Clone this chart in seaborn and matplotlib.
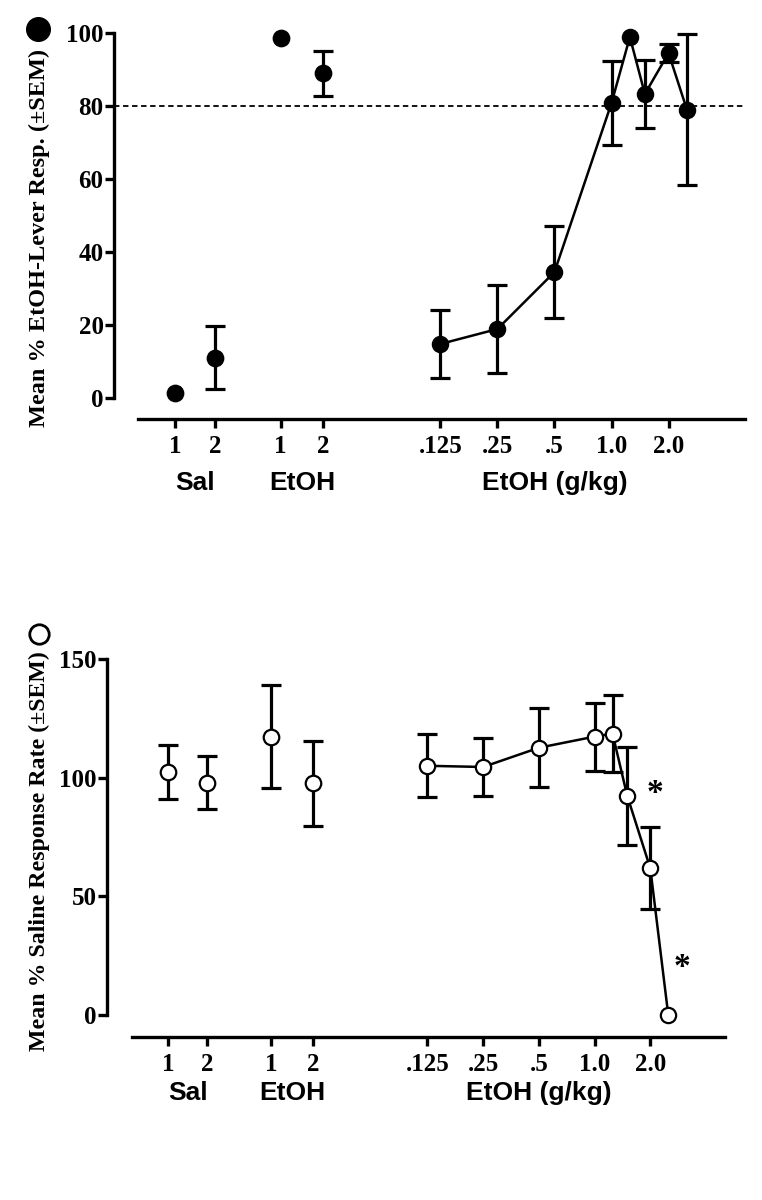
import numpy as np
import pandas as pd
import matplotlib
matplotlib.use("Agg")
import matplotlib.pyplot as plt
import matplotlib.transforms as mtransforms
from matplotlib.lines import Line2D
import seaborn as sns

# Baseline test sessions (saline and 1.0 g/kg EtOH) and cumulative dose curve
session_labels = ["1", "2", "1", "2"]
group_labels = ["Sal", "EtOH", "EtOH (g/kg)"]
doses = [0.125, 0.25, 0.5, 1.0, 1.25, 1.5, 2.0, 2.5]
dose_ticks = [0.125, 0.25, 0.5, 1.0, 2.0]
dose_tick_labels = [".125", ".25", ".5", "1.0", "2.0"]

# Top panel: % EtOH-lever responding
base_pct = [1.3, 11.0, 98.6, 89.0]
base_pct_sem = [0.0, 8.6, 0.0, 6.2]
dose_pct = [14.8, 18.9, 34.5, 80.8, 98.9, 83.3, 94.5, 79.0]
dose_pct_sem = [9.2, 12.0, 12.5, 11.5, 0.0, 9.3, 2.5, 20.6]

# Bottom panel: % saline response rate
base_rate = [102.4, 97.8, 117.2, 97.6]
base_rate_sem = [11.2, 11.2, 21.7, 18.0]
dose_rate = [105.0, 104.5, 112.6, 117.3, 118.6, 92.4, 61.8, 0.0]
dose_rate_sem = [13.3, 12.3, 16.7, 14.3, 16.4, 20.7, 17.3, 0.0]
signif_doses = [1.5, 2.5]

# x layout (log2 dose units, baseline sessions placed to the left)
base_pos = [-7.65, -6.95, -5.8, -5.05]

sns.set_theme(style="ticks")
plt.rcParams["font.family"] = ["Liberation Serif", "DejaVu Serif"]
plt.rcParams["font.weight"] = "bold"
plt.rcParams["text.color"] = "black"

serif = ["Liberation Serif", "DejaVu Serif"]
sans = ["Liberation Sans", "DejaVu Sans"]

fig = plt.figure(figsize=(7.62, 12), dpi=100)
PX = 0.72  # points per pixel at 100 dpi


def errbars(ax, xs, ys, sems):
    keep = [i for i, s in enumerate(sems) if s > 0]
    ax.errorbar([xs[i] for i in keep], [ys[i] for i in keep],
                yerr=[sems[i] for i in keep], fmt="none", ecolor="black",
                elinewidth=2.3, capsize=7.5, capthick=2.3, zorder=2, clip_on=False)


def draw_panel(ax, base_vals, base_sem, dose_vals, dose_sem, filled, ylim, yticks,
               left_off, bottom_off, group_y):
    dose_x = list(np.log2(doses))
    face = "black" if filled else "white"

    errbars(ax, base_pos, base_vals, base_sem)
    errbars(ax, dose_x, dose_vals, dose_sem)

    df_dose = pd.DataFrame({"x": dose_x, "y": dose_vals})
    sns.lineplot(data=df_dose, x="x", y="y", ax=ax, color="black", linewidth=1.8,
                 marker="o", markersize=11, markerfacecolor=face,
                 markeredgecolor="black", markeredgewidth=1.6, zorder=3, clip_on=False)

    df_base = pd.DataFrame({"x": base_pos, "y": base_vals})
    sns.scatterplot(data=df_base, x="x", y="y", ax=ax, s=125, color=face,
                    edgecolor="black", linewidth=1.6, zorder=3, clip_on=False)

    ax.set_xlim(-8.3, 2.34)
    ax.set_ylim(*ylim)
    ax.set_yticks(yticks)
    ax.set_yticklabels([str(t) for t in yticks])
    ax.set_xticks(list(base_pos) + list(np.log2(dose_ticks)))
    ax.set_xticklabels(session_labels + dose_tick_labels)
    ax.set_xlabel("")
    ax.set_ylabel("")

    for side in ["top", "right"]:
        ax.spines[side].set_visible(False)
    ax.spines["left"].set_position(("outward", left_off * PX))
    ax.spines["bottom"].set_position(("outward", bottom_off * PX))
    ax.spines["left"].set_bounds(ylim[0], ylim[1])
    for side in ["left", "bottom"]:
        ax.spines[side].set_linewidth(2.4)
        ax.spines[side].set_color("black")
    ax.tick_params(axis="both", direction="out", length=6.5, width=2.4,
                   colors="black", labelsize=18)
    ax.tick_params(axis="y", pad=1)
    ax.tick_params(axis="x", pad=5)
    for lab in ax.get_xticklabels() + ax.get_yticklabels():
        lab.set_fontweight("bold")
        lab.set_family(serif)
        lab.set_fontsize(18)

    # group labels under the x axis
    trans = mtransforms.blended_transform_factory(ax.transData, ax.transAxes)
    centers = [np.mean(base_pos[:2]), np.mean(base_pos[2:]),
               np.mean(np.log2(dose_ticks))]
    for c, lab in zip(centers, group_labels):
        ax.annotate(lab, xy=(c, 0), xycoords=trans, xytext=(0, -group_y),
                    textcoords="offset pixels", ha="center", va="center",
                    fontsize=19, fontweight="bold", family=sans, color="black")


# top panel
ax1 = fig.add_axes([138 / 762, 1 - 398 / 1200, 607 / 762, 365 / 1200])
draw_panel(ax1, base_pct, base_pct_sem, dose_pct, dose_pct_sem, True,
           (0, 100), [0, 20, 40, 60, 80, 100], 24, 21, 85)
ax1.axhline(80, color="black", linewidth=1.3, linestyle=(0, (3, 2)), zorder=1,
            xmin=-24 / 607, clip_on=False)

# bottom panel
ax2 = fig.add_axes([132 / 762, 1 - 1015 / 1200, 593 / 762, 356 / 1200])
draw_panel(ax2, base_rate, base_rate_sem, dose_rate, dose_rate_sem, False,
           (0, 150), [0, 50, 100, 150], 25, 22, 78)

# significance markers
sig_y = [dose_rate[doses.index(d)] for d in signif_doses]
ax2.text(np.log2(signif_doses[0]) + 0.5, sig_y[0] + 1, "*", fontsize=24,
         fontweight="bold", ha="center", va="center", family=serif)
ax2.text(np.log2(signif_doses[1]) + 0.25, sig_y[1] + 20, "*", fontsize=24,
         fontweight="bold", ha="center", va="center", family=serif)

# y labels with symbol keys
fig.text(39 / 762, 1 - 238 / 1200, "Mean % EtOH-Lever Resp. (\u00b1SEM)",
         rotation=90, ha="center", va="center", fontsize=17.5, fontweight="bold",
         family=serif)
fig.add_artist(Line2D([38 / 762], [1 - 29 / 1200], marker="o", markersize=17,
                      markerfacecolor="black", markeredgecolor="black",
                      transform=fig.transFigure))
fig.text(39 / 762, 1 - 851 / 1200, "Mean % Saline Response Rate (\u00b1SEM)",
         rotation=90, ha="center", va="center", fontsize=17.2, fontweight="bold",
         family=serif)
fig.add_artist(Line2D([39 / 762], [1 - 634 / 1200], marker="o", markersize=14,
                      markerfacecolor="white", markeredgecolor="black",
                      markeredgewidth=2, transform=fig.transFigure))

fig.savefig("out.png", dpi=100)
